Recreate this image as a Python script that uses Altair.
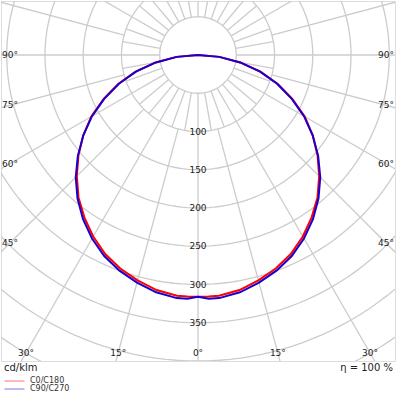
import altair as alt
import pandas as pd
import numpy as np

# ---- data (cd/klm vs gamma angle, same on both halves) ----
gamma = [0, 2.5, 5, 10, 15, 20, 25, 30, 35, 40, 45, 50, 55, 60, 65, 70, 75, 80, 85, 90]
c0_c180 = [316, 316, 316, 312, 305, 297, 287, 274, 259, 243, 224, 204, 183, 161, 136, 111, 85, 56, 28, 0]
c90_c270 = [316, 319, 319, 315, 308, 300, 290, 277, 262, 245, 226, 205, 183, 160, 135, 110, 84, 56, 28, 0]
series_names = ["C0/C180", "C90/C270"]
series_colors = ["#ff0000", "#1800d0"]

ring_values = [50, 100, 150, 200, 250, 300, 350, 400, 450, 500, 550]
ring_labels = [100, 150, 200, 250, 300, 350]
side_angles = [90, 75, 60, 45]
bottom_angles = [30, 15, 0]

XD = [-257.5, 257.5]
YD = [-400, 70.6]
PX = 0.765  # px per cd/klm
FONT = "DejaVu Sans"
GRID = "#cccccc"

xs = alt.Scale(domain=XD, nice=False, zero=False)
ys = alt.Scale(domain=YD, nice=False, zero=False)

# ---- curve table ----
rows = []
for name, vals in zip(series_names, [c0_c180, c90_c270]):
    for g, v in zip(gamma, vals):
        rows.append({"series": name, "a": -g, "I": v})
        if g != 0:
            rows.append({"series": name, "a": g, "I": v})
curve = pd.DataFrame(rows)

# ---- grid tables ----
circ = pd.DataFrame([{"r": r, "a": a} for r in ring_values for a in range(0, 362, 2)])
spokes = pd.DataFrame(
    [{"a": a, "r1": 100, "r2": 700} for a in range(0, 360, 15)]
    + [{"a": a, "r1": 50, "r2": 100} for a in range(0, 360, 10)]
)
rlab = pd.DataFrame({"t": [str(v) for v in ring_labels], "x": 0.0, "y": [-v for v in ring_labels]})

# angle labels: centred on the spoke near the frame edge
lab_rows = []
xin = XD[1] - 9 / PX
for a in side_angles:
    yy = -xin / np.tan(np.radians(a)) if a != 90 else 0.0
    lab_rows.append({"t": f"{a}°", "x": -xin, "y": yy})
    lab_rows.append({"t": f"{a}°", "x": xin, "y": yy})
yin = YD[0] + 8 / PX
for a in bottom_angles:
    xx = abs(yin * np.tan(np.radians(a)))
    lab_rows.append({"t": f"{a}°", "x": -xx, "y": yin})
    if a != 0:
        lab_rows.append({"t": f"{a}°", "x": xx, "y": yin})
alab = pd.DataFrame(lab_rows)

grid_circle = (
    alt.Chart(circ)
    .transform_calculate(x="datum.r*sin(datum.a*PI/180)", y="-datum.r*cos(datum.a*PI/180)")
    .mark_line(color=GRID, strokeWidth=1.3, clip=True)
    .encode(
        x=alt.X("x:Q", scale=xs, axis=None),
        y=alt.Y("y:Q", scale=ys, axis=None),
        detail="r:N",
        order="a:Q",
    )
)

grid_spokes = (
    alt.Chart(spokes)
    .transform_calculate(
        x1="datum.r1*sin(datum.a*PI/180)",
        y1="-datum.r1*cos(datum.a*PI/180)",
        x2="datum.r2*sin(datum.a*PI/180)",
        y2="-datum.r2*cos(datum.a*PI/180)",
    )
    .mark_rule(color=GRID, strokeWidth=1.3, clip=True)
    .encode(
        x=alt.X("x1:Q", scale=xs, axis=None),
        y=alt.Y("y1:Q", scale=ys, axis=None),
        x2="x2:Q",
        y2="y2:Q",
    )
)

ring_text = (
    alt.Chart(rlab)
    .mark_text(font=FONT, fontSize=9, color="#222", align="center", baseline="middle")
    .encode(x=alt.X("x:Q", scale=xs, axis=None), y=alt.Y("y:Q", scale=ys, axis=None), text="t:N")
)

angle_text = (
    alt.Chart(alab)
    .mark_text(font=FONT, fontSize=9, color="#222", align="center", baseline="middle")
    .encode(x=alt.X("x:Q", scale=xs, axis=None), y=alt.Y("y:Q", scale=ys, axis=None), text="t:N")
)

color_scale = alt.Scale(domain=series_names, range=series_colors)


def curve_layer(name, legend):
    return (
        alt.Chart(curve)
        .transform_filter(alt.datum.series == name)
        .transform_calculate(x="datum.I*sin(datum.a*PI/180)", y="-datum.I*cos(datum.a*PI/180)")
        .mark_line(strokeWidth=2, clip=True)
        .encode(
            x=alt.X("x:Q", scale=xs, axis=None),
            y=alt.Y("y:Q", scale=ys, axis=None),
            order="a:Q",
            color=alt.Color("series:N", scale=color_scale, legend=legend),
        )
    )


legend = alt.Legend(
    title=None,
    orient="none",
    legendX=3,
    legendY=376,
    symbolType="stroke",
    symbolSize=400,
    symbolStrokeWidth=1,
    symbolOpacity=0.55,
    labelFont=FONT,
    labelFontSize=8,
    labelColor="#333",
    labelOffset=5,
    rowPadding=0,
    clipHeight=8,
    padding=0,
)

bottom = pd.DataFrame(
    {
        "t": ["cd/klm", "η = 100 %"],
        "x": [XD[0] + 3 / PX, XD[1] - 2 / PX],
        "y": [YD[1] - 367 / PX, YD[1] - 367 / PX],
    }
)
bottom_left = (
    alt.Chart(bottom.iloc[[0]])
    .mark_text(font=FONT, fontSize=10, color="#222", align="left", baseline="middle", clip=False)
    .encode(x=alt.X("x:Q", scale=xs, axis=None), y=alt.Y("y:Q", scale=ys, axis=None), text="t:N")
)
bottom_right = (
    alt.Chart(bottom.iloc[[1]])
    .mark_text(font=FONT, fontSize=10, color="#222", align="right", baseline="middle", clip=False)
    .encode(x=alt.X("x:Q", scale=xs, axis=None), y=alt.Y("y:Q", scale=ys, axis=None), text="t:N")
)

chart = (
    alt.layer(
        grid_circle,
        grid_spokes,
        ring_text,
        angle_text,
        curve_layer("C0/C180", legend),
        curve_layer("C90/C270", legend),
        bottom_left,
        bottom_right,
    )
    .properties(
        width=394,
        height=360,
        autosize=alt.AutoSizeParams(type="none"),
        padding={"left": 1, "top": 1, "right": 1, "bottom": 35},
    )
    .configure_view(stroke="#444", strokeWidth=2)
    .configure(background="white")
)

chart.save("out.html", embed_options={"renderer": "svg", "actions": False})
